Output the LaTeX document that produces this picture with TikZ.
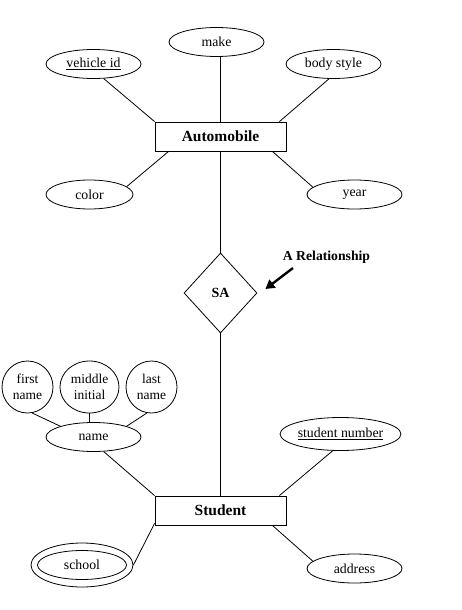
\documentclass[tikz,border=0pt]{standalone}
\usepackage{fontspec}
\setmainfont{Liberation Serif}
\usetikzlibrary{shapes.geometric,arrows.meta,calc}
\begin{document}
\begin{tikzpicture}[x=1pt,y=-1pt,
  every path/.style={line width=0.8pt},
  attr/.style={draw,ellipse,line width=0.8pt,minimum width=95pt,minimum height=29pt,inner sep=0pt,font=\fontsize{13.8}{15}\selectfont},
  circ/.style={draw,ellipse,line width=0.8pt,minimum width=51pt,minimum height=52pt,inner sep=0pt,align=center,font=\fontsize{13.5}{16}\selectfont},
  ent/.style={draw,rectangle,line width=0.8pt,minimum width=131pt,minimum height=29pt,inner sep=0pt,font=\fontsize{15.5}{18}\selectfont\bfseries},
  reln/.style={draw,diamond,line width=0.8pt,minimum width=73pt,minimum height=80pt,inner sep=0pt,font=\fontsize{14}{16}\selectfont\bfseries},
  lbl/.style={font=\fontsize{13.7}{16}\selectfont\bfseries,inner sep=0pt},
  link/.style={draw,line width=0.8pt},
  pointer/.style={draw,line width=2.4pt,-{Triangle[length=9pt,width=10pt]}}
]
\useasboundingbox (0,0) rectangle (461,610);

\node[attr] (make) at (216.5,42) {make};
\node[attr] (vid) at (93.5,64) {\underline{vehicle id}};
\node[attr] (bs) at (333.5,64) {body style};
\node[ent] (auto) at (220.5,136.5) {Automobile};
\node[attr,minimum width=87pt] (col) at (89.5,194.5) {color};
\node[attr] (year) at (354.5,194.5) {year};

\node[reln] (sa) at (220.5,293) {SA};
\node[lbl] (lab) at (326.5,257) {A Relationship};
\coordinate (as) at (293,268);

\node[circ] (first) at (27.5,387) {first\\name};
\node[circ,minimum width=59pt] (mid) at (89.5,387) {middle\\initial};
\node[circ] (last) at (151.5,387) {last\\name};
\node[attr] (name) at (93.5,437) {name};
\node[attr,minimum width=115pt,minimum height=33pt] (sn) at (340.5,434) {\underline{student number}};

\node[ent] (stu) at (220.5,510.5) {Student};
\node[attr,minimum width=89pt] (school) at (82,565) {school};
\node[draw,ellipse,line width=0.8pt,minimum width=102pt,minimum height=44pt,inner sep=0pt] (schoolo) at (82,565) {};
\node[attr] (addr) at (354.5,568.5) {address};

\path[link] (auto.north) -- (auto.north |- make.south);
\path[link] (vid.-55) -- (auto.north west);
\path[link] (bs.-107) -- ([xshift=-7pt]auto.north east);
\path[link] (col.12) -- ([xshift=14pt]auto.south west);
\path[link] (year.170) -- ([xshift=-14pt]auto.south east);
\path[link] (auto) -- (sa);
\path[link] (sa) -- (stu);
\path[pointer] (as) -- ([xshift=8pt,yshift=4pt]sa.east);

\path[link] (first.-80) -- (name.162);
\path[link] (mid.south) -- (mid.south |- name.north);
\path[link] (last.-100) -- (name.18);
\path[link] (name.-55) -- (stu.north west);
\path[link] (sn.-115) -- ([xshift=-7pt]stu.north east);
\path[link] (schoolo.east) -- ([yshift=2pt]stu.south west);
\path[link] (addr.170) -- ([xshift=-14pt]stu.south east);
\end{tikzpicture}
\end{document}
